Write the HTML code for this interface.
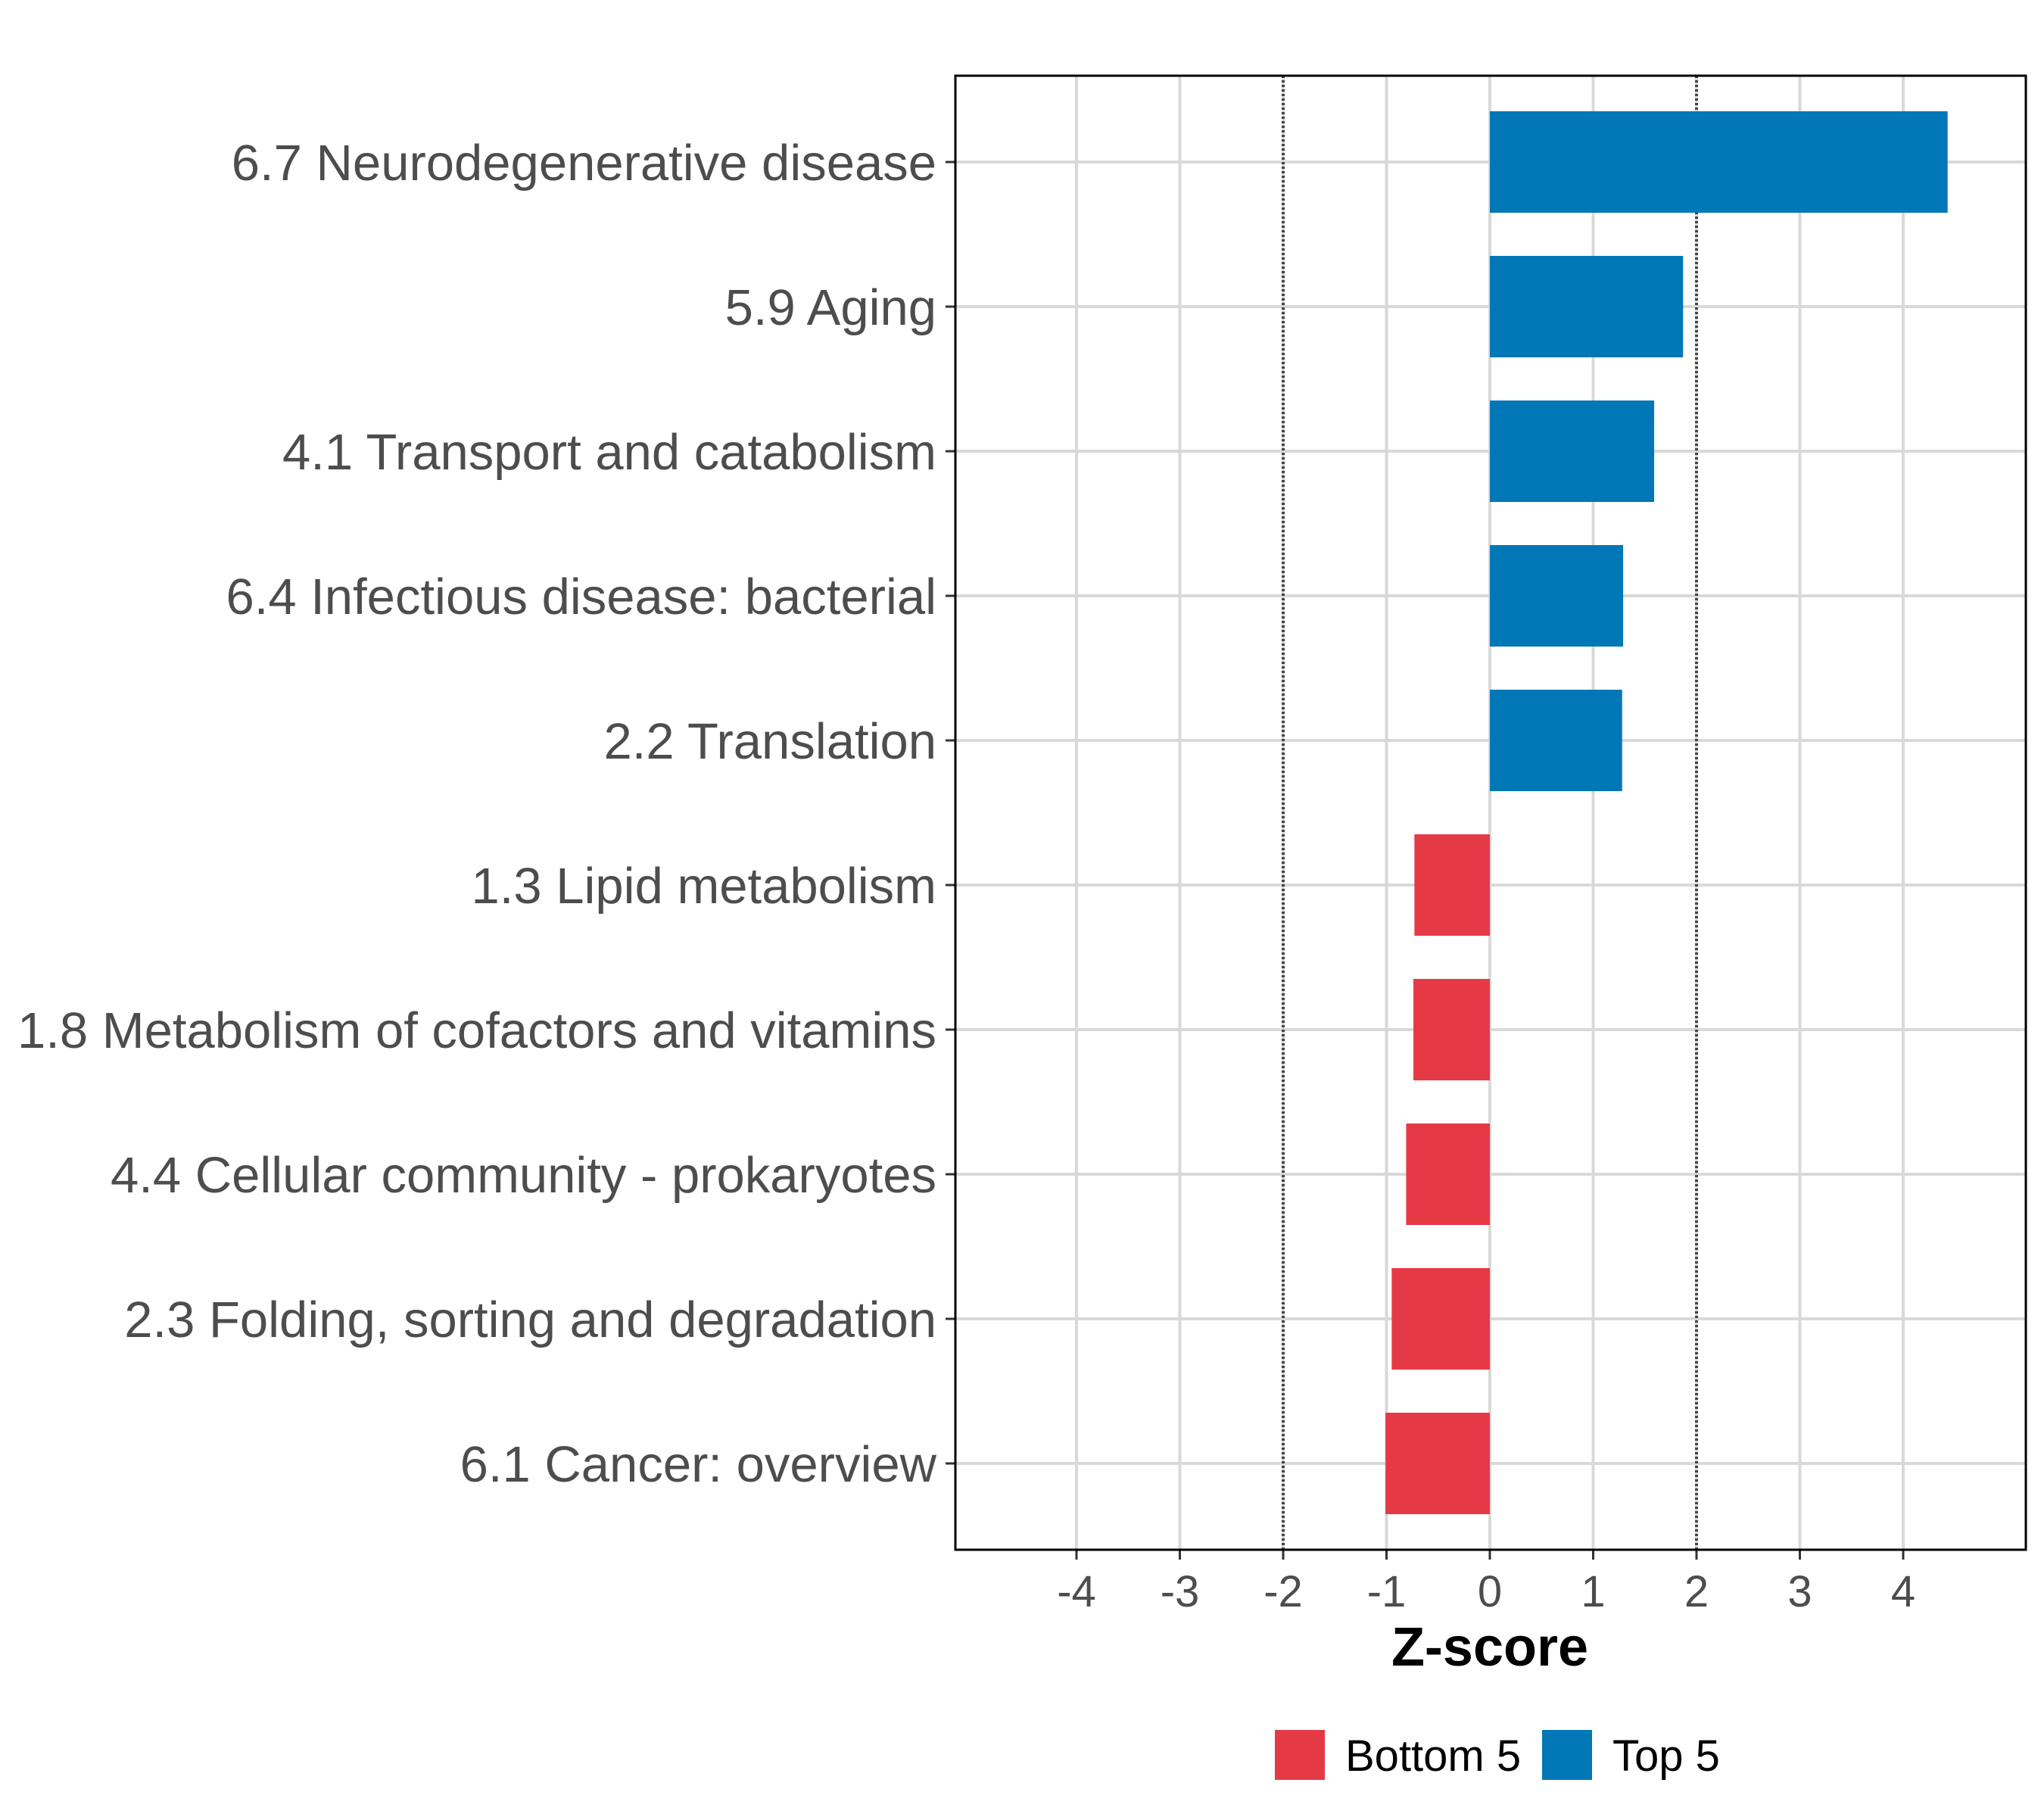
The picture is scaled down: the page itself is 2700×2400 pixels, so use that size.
<!DOCTYPE html>
<html><head><meta charset="utf-8"><style>
html,body{margin:0;padding:0;background:#fff}
svg{display:block}
text{font-family:"Liberation Sans",sans-serif}
</style></head><body>
<svg id="chart" width="2700" height="2400" viewBox="0 0 2700 2400" xmlns="http://www.w3.org/2000/svg">
<g id="grid"></g>
<g id="bars"></g>
<g id="ylabels"></g>
<g id="xlabels"></g>
<rect x="1262" y="100" width="1414" height="1947" fill="none" stroke="#000" stroke-width="3"/>
<text x="1968" y="2200" text-anchor="middle" font-size="72" font-weight="bold" fill="#000">Z-score</text>
<g>
<rect x="1684" y="2285" width="66" height="66" fill="#e63946"/>
<text x="1777" y="2339" font-size="58" fill="#000">Bottom 5</text>
<rect x="2037" y="2285" width="66" height="66" fill="#0077b6"/>
<text x="2130" y="2339" font-size="58" fill="#000">Top 5</text>
</g>
</svg>
<script>
const categories=["6.7 Neurodegenerative disease","5.9 Aging","4.1 Transport and catabolism","6.4 Infectious disease: bacterial","2.2 Translation","1.3 Lipid metabolism","1.8 Metabolism of cofactors and vitamins","4.4 Cellular community - prokaryotes","2.3 Folding, sorting and degradation","6.1 Cancer: overview"];
const values=[4.43,1.87,1.59,1.29,1.28,-0.73,-0.74,-0.81,-0.95,-1.01];
const groups=["top","top","top","top","top","bottom","bottom","bottom","bottom","bottom"];
const xTicks=[-4,-3,-2,-1,0,1,2,3,4];
const refLines=[-2,2];
const NS="http://www.w3.org/2000/svg";
const x0=1968,unit=136.5,rowTop=214,rowStep=191,barH=134;
const panelL=1262,panelR=2676,panelT=100,panelB=2047;
function xs(v){return x0+v*unit;}
function ys(i){return rowTop+i*rowStep;}
function mk(tag,attrs,parent){const e=document.createElementNS(NS,tag);for(const k in attrs)e.setAttribute(k,attrs[k]);parent.appendChild(e);return e;}
const grid=document.getElementById('grid'),bars=document.getElementById('bars'),yl=document.getElementById('ylabels'),xl=document.getElementById('xlabels');
xTicks.forEach(t=>{
 const l=mk('line',{x1:xs(t),x2:xs(t),y1:panelT,y2:panelB,stroke:'#d9d9d9','stroke-width':4},grid);
 
 
 const tk=mk('line',{x1:xs(t),x2:xs(t),y1:panelB,y2:panelB+13,stroke:'#333','stroke-width':3},xl);
 
 
 const tx=mk('text',{x:xs(t),y:2122,'text-anchor':'middle','font-size':58,fill:'#4d4d4d'},xl);
 tx.textContent=String(t);
 
 
});
categories.forEach((c,i)=>{
 const l=mk('line',{x1:panelL,x2:panelR,y1:ys(i),y2:ys(i),stroke:'#d9d9d9','stroke-width':4},grid);
 
 
});
refLines.forEach(r=>{
 const l=mk('line',{x1:xs(r),x2:xs(r),y1:panelT,y2:panelB,stroke:'#444','stroke-width':4,'stroke-dasharray':'3,3'},grid);
 
 
});
categories.forEach((c,i)=>{
 const v=values[i];
 const r=mk('rect',{x:Math.min(xs(0),xs(v)),y:ys(i)-barH/2,width:Math.abs(xs(v)-xs(0)),height:barH,fill:groups[i]==='top'?'#0077b6':'#e63946'},bars);
 
 
 const tk=mk('line',{x1:panelL-13,x2:panelL,y1:ys(i),y2:ys(i),stroke:'#333','stroke-width':3},yl);
 
 
 const t=mk('text',{x:1237,y:ys(i)+24,'text-anchor':'end','font-size':67,fill:'#4d4d4d'},yl);
 t.textContent=c;
 
 
});
</script>
</body></html>
